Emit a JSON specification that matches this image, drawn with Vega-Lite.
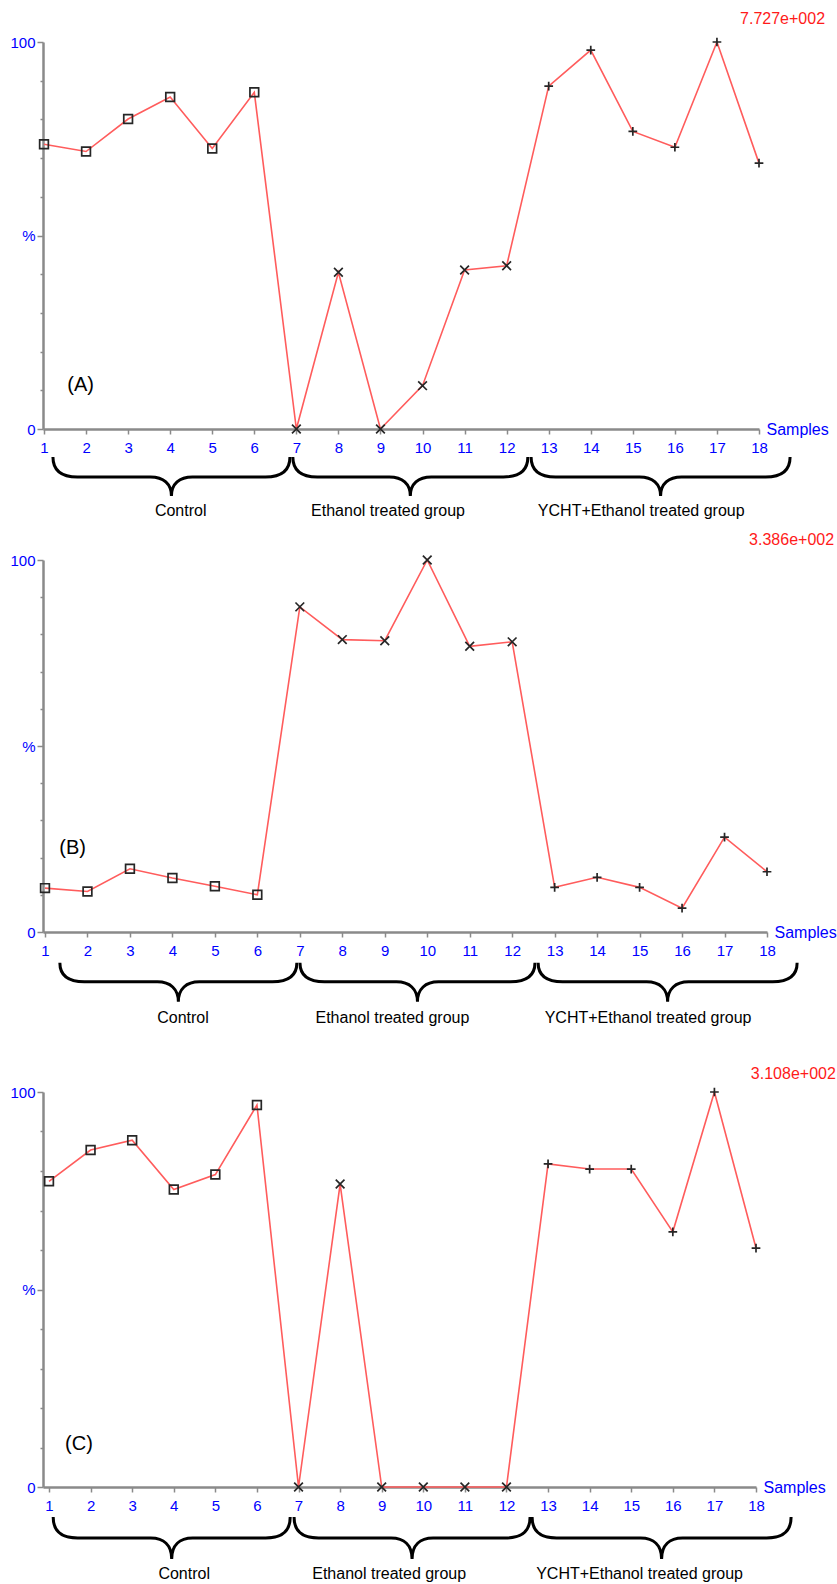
{
  "$schema": "https://vega.github.io/schema/vega-lite/v6.json",
  "padding": {"left": 9, "top": 11, "right": 0, "bottom": 0},
  "background": "white",
  "bounds": "flush",
  "spacing": 131,
  "config": {"view": {"stroke": null}, "font": "Liberation Sans"},
  "datasets": {
    "pts": [
      {"panel": "A", "sample": 1, "value": 73.6, "group": "Control"},
      {"panel": "A", "sample": 2, "value": 71.7, "group": "Control"},
      {"panel": "A", "sample": 3, "value": 80.1, "group": "Control"},
      {"panel": "A", "sample": 4, "value": 85.8, "group": "Control"},
      {"panel": "A", "sample": 5, "value": 72.5, "group": "Control"},
      {"panel": "A", "sample": 6, "value": 87.0, "group": "Control"},
      {"panel": "A", "sample": 7, "value": 0, "group": "Ethanol treated group"},
      {"panel": "A", "sample": 8, "value": 40.5, "group": "Ethanol treated group"},
      {"panel": "A", "sample": 9, "value": 0, "group": "Ethanol treated group"},
      {"panel": "A", "sample": 10, "value": 11.2, "group": "Ethanol treated group"},
      {"panel": "A", "sample": 11, "value": 41.1, "group": "Ethanol treated group"},
      {"panel": "A", "sample": 12, "value": 42.2, "group": "Ethanol treated group"},
      {"panel": "A", "sample": 13, "value": 88.6, "group": "YCHT+Ethanol treated group"},
      {"panel": "A", "sample": 14, "value": 97.9, "group": "YCHT+Ethanol treated group"},
      {"panel": "A", "sample": 15, "value": 76.9, "group": "YCHT+Ethanol treated group"},
      {"panel": "A", "sample": 16, "value": 72.8, "group": "YCHT+Ethanol treated group"},
      {"panel": "A", "sample": 17, "value": 100, "group": "YCHT+Ethanol treated group"},
      {"panel": "A", "sample": 18, "value": 68.7, "group": "YCHT+Ethanol treated group"},
      {"panel": "B", "sample": 1, "value": 11.8, "group": "Control"},
      {"panel": "B", "sample": 2, "value": 10.9, "group": "Control"},
      {"panel": "B", "sample": 3, "value": 17.0, "group": "Control"},
      {"panel": "B", "sample": 4, "value": 14.5, "group": "Control"},
      {"panel": "B", "sample": 5, "value": 12.3, "group": "Control"},
      {"panel": "B", "sample": 6, "value": 10.0, "group": "Control"},
      {"panel": "B", "sample": 7, "value": 87.4, "group": "Ethanol treated group"},
      {"panel": "B", "sample": 8, "value": 78.6, "group": "Ethanol treated group"},
      {"panel": "B", "sample": 9, "value": 78.3, "group": "Ethanol treated group"},
      {"panel": "B", "sample": 10, "value": 100, "group": "Ethanol treated group"},
      {"panel": "B", "sample": 11, "value": 76.8, "group": "Ethanol treated group"},
      {"panel": "B", "sample": 12, "value": 78.0, "group": "Ethanol treated group"},
      {"panel": "B", "sample": 13, "value": 12.0, "group": "YCHT+Ethanol treated group"},
      {"panel": "B", "sample": 14, "value": 14.7, "group": "YCHT+Ethanol treated group"},
      {"panel": "B", "sample": 15, "value": 12.0, "group": "YCHT+Ethanol treated group"},
      {"panel": "B", "sample": 16, "value": 6.4, "group": "YCHT+Ethanol treated group"},
      {"panel": "B", "sample": 17, "value": 25.5, "group": "YCHT+Ethanol treated group"},
      {"panel": "B", "sample": 18, "value": 16.2, "group": "YCHT+Ethanol treated group"},
      {"panel": "C", "sample": 1, "value": 77.4, "group": "Control"},
      {"panel": "C", "sample": 2, "value": 85.3, "group": "Control"},
      {"panel": "C", "sample": 3, "value": 87.8, "group": "Control"},
      {"panel": "C", "sample": 4, "value": 75.3, "group": "Control"},
      {"panel": "C", "sample": 5, "value": 79.1, "group": "Control"},
      {"panel": "C", "sample": 6, "value": 96.7, "group": "Control"},
      {"panel": "C", "sample": 7, "value": 0, "group": "Ethanol treated group"},
      {"panel": "C", "sample": 8, "value": 76.7, "group": "Ethanol treated group"},
      {"panel": "C", "sample": 9, "value": 0, "group": "Ethanol treated group"},
      {"panel": "C", "sample": 10, "value": 0, "group": "Ethanol treated group"},
      {"panel": "C", "sample": 11, "value": 0, "group": "Ethanol treated group"},
      {"panel": "C", "sample": 12, "value": 0, "group": "Ethanol treated group"},
      {"panel": "C", "sample": 13, "value": 81.8, "group": "YCHT+Ethanol treated group"},
      {"panel": "C", "sample": 14, "value": 80.5, "group": "YCHT+Ethanol treated group"},
      {"panel": "C", "sample": 15, "value": 80.5, "group": "YCHT+Ethanol treated group"},
      {"panel": "C", "sample": 16, "value": 64.6, "group": "YCHT+Ethanol treated group"},
      {"panel": "C", "sample": 17, "value": 100, "group": "YCHT+Ethanol treated group"},
      {"panel": "C", "sample": 18, "value": 60.5, "group": "YCHT+Ethanol treated group"}
    ],
    "braces": [
      {"panel": "A", "group": "Control", "mid": 4.03},
      {"panel": "A", "group": "Ethanol treated group", "mid": 9.71},
      {"panel": "A", "group": "YCHT+Ethanol treated group", "mid": 15.66},
      {"panel": "B", "group": "Control", "mid": 4.14},
      {"panel": "B", "group": "Ethanol treated group", "mid": 9.77},
      {"panel": "B", "group": "YCHT+Ethanol treated group", "mid": 15.66},
      {"panel": "C", "group": "Control", "mid": 3.95},
      {"panel": "C", "group": "Ethanol treated group", "mid": 9.73},
      {"panel": "C", "group": "YCHT+Ethanol treated group", "mid": 15.73}
    ],
    "grouplabels": [
      {"label": "Control", "at": 4.25},
      {"label": "Ethanol treated group", "at": 9.18},
      {"label": "YCHT+Ethanol treated group", "at": 15.2}
    ],
    "notes": [
      {"panel": "A", "tag": "(A)", "scale": "7.727e+002"},
      {"panel": "B", "tag": "(B)", "scale": "3.386e+002"},
      {"panel": "C", "tag": "(C)", "scale": "3.108e+002"}
    ]
  },
  "vconcat": [
    {
      "width": 716,
      "height": 387,
      "layer": [
        {
          "data": {"name": "pts"},
          "transform": [{"filter": "datum.panel == 'A'"}],
          "mark": {"type": "line", "color": "#ff5c5c", "strokeWidth": 1.6},
          "encoding": {
            "x": {"field": "sample", "type": "quantitative", "title": "Samples",
              "scale": {"domain": [0.9762, 18], "nice": false, "zero": false},
              "axis": {"values": [1,2,3,4,5,6,7,8,9,10,11,12,13,14,15,16,17,18], "tickCount": 30, "format": "d", "grid": false,
                "tickSize": 5, "tickWidth": 1.5, "tickColor": "#8a8a8a", "domainColor": "#8a8a8a", "domainWidth": 2.5,
                "labelColor": "#0000ff", "labelFontSize": 15, "labelFont": "Liberation Sans", "labelPadding": 6,
                "labelFlush": false, "labelOverlap": false,
                "titleX": 723, "titleY": 0, "titleAlign": "left", "titleBaseline": "middle", "titleAngle": 0,
                "titleColor": "#0000ff", "titleFontSize": 16, "titleFontWeight": "normal", "titleFont": "Liberation Sans"}},
            "y": {"field": "value", "type": "quantitative", "title": null,
              "scale": {"domain": [0, 100], "nice": false},
              "axis": {"values": [0,10,20,30,40,50,60,70,80,90,100], "tickCount": 30, "grid": false,
                "labelExpr": "datum.value == 50 ? '%' : ((datum.value == 0 || datum.value == 100) ? datum.label : '')",
                "tickSize": {"condition": {"test": "datum.value == 0 || datum.value == 50 || datum.value == 100", "value": 6}, "value": 3},
                "tickWidth": 1.5, "tickColor": "#8a8a8a", "domainColor": "#8a8a8a", "domainWidth": 2.5,
                "labelColor": "#0000ff", "labelFontSize": 15, "labelFont": "Liberation Sans", "labelPadding": 2,
                "labelOverlap": false, "labelFlush": false, "labelBound": false}}
          }
        },
        {
          "data": {"name": "pts"},
          "transform": [{"filter": "datum.panel == 'A'"}],
          "mark": {"type": "point", "filled": false, "opacity": 1, "stroke": "#262626", "strokeWidth": 1.7, "size": 76},
          "encoding": {
            "x": {"field": "sample", "type": "quantitative", "title": "Samples"},
            "y": {"field": "value", "type": "quantitative", "title": null},
            "shape": {"field": "group", "type": "nominal", "legend": null,
              "scale": {"domain": ["Control", "Ethanol treated group", "YCHT+Ethanol treated group"],
                "range": ["square", "M-1,-1L1,1M-1,1L1,-1", "M-1,0L1,0M0,-1L0,1"]}}
          }
        },
        {
          "data": {"name": "braces"},
          "transform": [{"filter": "datum.panel == 'A'"}],
          "mark": {"type": "point", "filled": false, "opacity": 1, "stroke": "#000000", "strokeWidth": 3, "size": 4},
          "encoding": {
            "x": {"field": "mid", "type": "quantitative", "title": "Samples"},
            "y": {"datum": -12.4, "type": "quantitative", "title": null},
            "shape": {"field": "group", "type": "nominal", "legend": null,
              "scale": {"domain": ["Control", "Ethanol treated group", "YCHT+Ethanol treated group"],
                "range": [
                  "M-118.5,-20C-118.5,-7,-111,0,-94,0L-21,0C-8,0,0,7,0,19C0,7,8,0,21,0L94,0C111,0,118.5,-7,118.5,-20",
                  "M-117.5,-20C-117.5,-7,-110,0,-93,0L-21,0C-8,0,0,7,0,19C0,7,8,0,21,0L93,0C110,0,117.5,-7,117.5,-20",
                  "M-129.5,-20C-129.5,-7,-122,0,-105,0L-21,0C-8,0,0,7,0,19C0,7,8,0,21,0L105,0C122,0,129.5,-7,129.5,-20"]}}
          }
        },
        {
          "data": {"name": "grouplabels"},
          "mark": {"type": "text", "fontSize": 16, "font": "Liberation Sans", "color": "#000000", "baseline": "middle", "align": "center"},
          "encoding": {
            "x": {"field": "at", "type": "quantitative", "title": "Samples"},
            "y": {"datum": -21.2, "type": "quantitative", "title": null},
            "text": {"field": "label"}
          }
        },
        {
          "data": {"name": "notes"},
          "transform": [{"filter": "datum.panel == 'A'"}],
          "mark": {"type": "text", "fontSize": 20, "font": "Liberation Sans", "color": "#000000", "baseline": "middle", "align": "center"},
          "encoding": {
            "x": {"datum": 1.87, "type": "quantitative", "title": "Samples"},
            "y": {"datum": 11.4, "type": "quantitative", "title": null},
            "text": {"field": "tag"}
          }
        },
        {
          "data": {"name": "notes"},
          "transform": [{"filter": "datum.panel == 'A'"}],
          "mark": {"type": "text", "fontSize": 16, "font": "Liberation Sans", "color": "#ff1a1a", "baseline": "middle", "align": "right"},
          "encoding": {
            "x": {"datum": 19.57, "type": "quantitative", "title": "Samples"},
            "y": {"datum": 105.9, "type": "quantitative", "title": null},
            "text": {"field": "scale"}
          }
        }
      ],
      "resolve": {"scale": {"shape": "independent"}}
    },
    {
      "bounds": "flush",
      "spacing": 160,
      "vconcat": [
        {
          "width": 724,
          "height": 372,
          "layer": [
            {
              "data": {"name": "pts"},
              "transform": [{"filter": "datum.panel == 'B'"}],
              "mark": {"type": "line", "color": "#ff5c5c", "strokeWidth": 1.6},
              "encoding": {
                "x": {"field": "sample", "type": "quantitative", "title": "Samples",
                  "scale": {"domain": [0.9529, 18], "nice": false, "zero": false},
                  "axis": {"values": [1,2,3,4,5,6,7,8,9,10,11,12,13,14,15,16,17,18], "tickCount": 30, "format": "d", "grid": false,
                    "tickSize": 5, "tickWidth": 1.5, "tickColor": "#8a8a8a", "domainColor": "#8a8a8a", "domainWidth": 2.5,
                    "labelColor": "#0000ff", "labelFontSize": 15, "labelFont": "Liberation Sans", "labelPadding": 6,
                    "labelFlush": false, "labelOverlap": false,
                    "titleX": 731, "titleY": 0, "titleAlign": "left", "titleBaseline": "middle", "titleAngle": 0,
                    "titleColor": "#0000ff", "titleFontSize": 16, "titleFontWeight": "normal", "titleFont": "Liberation Sans"}},
                "y": {"field": "value", "type": "quantitative", "title": null,
                  "scale": {"domain": [0, 100], "nice": false},
                  "axis": {"values": [0,10,20,30,40,50,60,70,80,90,100], "tickCount": 30, "grid": false,
                    "labelExpr": "datum.value == 50 ? '%' : ((datum.value == 0 || datum.value == 100) ? datum.label : '')",
                    "tickSize": {"condition": {"test": "datum.value == 0 || datum.value == 50 || datum.value == 100", "value": 6}, "value": 3},
                    "tickWidth": 1.5, "tickColor": "#8a8a8a", "domainColor": "#8a8a8a", "domainWidth": 2.5,
                    "labelColor": "#0000ff", "labelFontSize": 15, "labelFont": "Liberation Sans", "labelPadding": 2,
                    "labelOverlap": false, "labelFlush": false, "labelBound": false}}
              }
            },
            {
              "data": {"name": "pts"},
              "transform": [{"filter": "datum.panel == 'B'"}],
              "mark": {"type": "point", "filled": false, "opacity": 1, "stroke": "#262626", "strokeWidth": 1.7, "size": 76},
              "encoding": {
                "x": {"field": "sample", "type": "quantitative", "title": "Samples"},
                "y": {"field": "value", "type": "quantitative", "title": null},
                "shape": {"field": "group", "type": "nominal", "legend": null,
                  "scale": {"domain": ["Control", "Ethanol treated group", "YCHT+Ethanol treated group"],
                    "range": ["square", "M-1,-1L1,1M-1,1L1,-1", "M-1,0L1,0M0,-1L0,1"]}}
              }
            },
            {
              "data": {"name": "braces"},
              "transform": [{"filter": "datum.panel == 'B'"}],
              "mark": {"type": "point", "filled": false, "opacity": 1, "stroke": "#000000", "strokeWidth": 3, "size": 4},
              "encoding": {
                "x": {"field": "mid", "type": "quantitative", "title": "Samples"},
                "y": {"datum": -13.4, "type": "quantitative", "title": null},
                "shape": {"field": "group", "type": "nominal", "legend": null,
                  "scale": {"domain": ["Control", "Ethanol treated group", "YCHT+Ethanol treated group"],
                    "range": [
                      "M-118.5,-19C-118.5,-7,-111,0,-94,0L-21,0C-8,0,0,7,0,20C0,7,8,0,21,0L94,0C111,0,118.5,-7,118.5,-19",
                      "M-117.5,-19C-117.5,-7,-110,0,-93,0L-21,0C-8,0,0,7,0,20C0,7,8,0,21,0L93,0C110,0,117.5,-7,117.5,-19",
                      "M-129.5,-19C-129.5,-7,-122,0,-105,0L-21,0C-8,0,0,7,0,20C0,7,8,0,21,0L105,0C122,0,129.5,-7,129.5,-19"]}}
              }
            },
            {
              "data": {"name": "grouplabels"},
              "mark": {"type": "text", "fontSize": 16, "font": "Liberation Sans", "color": "#000000", "baseline": "middle", "align": "center"},
              "encoding": {
                "x": {"field": "at", "type": "quantitative", "title": "Samples"},
                "y": {"datum": -23.0, "type": "quantitative", "title": null},
                "text": {"field": "label"}
              }
            },
            {
              "data": {"name": "notes"},
              "transform": [{"filter": "datum.panel == 'B'"}],
              "mark": {"type": "text", "fontSize": 20, "font": "Liberation Sans", "color": "#000000", "baseline": "middle", "align": "center"},
              "encoding": {
                "x": {"datum": 1.65, "type": "quantitative", "title": "Samples"},
                "y": {"datum": 22.5, "type": "quantitative", "title": null},
                "text": {"field": "tag"}
              }
            },
            {
              "data": {"name": "notes"},
              "transform": [{"filter": "datum.panel == 'B'"}],
              "mark": {"type": "text", "fontSize": 16, "font": "Liberation Sans", "color": "#ff1a1a", "baseline": "middle", "align": "right"},
              "encoding": {
                "x": {"datum": 19.58, "type": "quantitative", "title": "Samples"},
                "y": {"datum": 105.4, "type": "quantitative", "title": null},
                "text": {"field": "scale"}
              }
            }
          ],
          "resolve": {"scale": {"shape": "independent"}}
        },
        {
          "width": 713,
          "height": 395,
          "layer": [
            {
              "data": {"name": "pts"},
              "transform": [{"filter": "datum.panel == 'C'"}],
              "mark": {"type": "line", "color": "#ff5c5c", "strokeWidth": 1.6},
              "encoding": {
                "x": {"field": "sample", "type": "quantitative", "title": "Samples",
                  "scale": {"domain": [0.8557, 18], "nice": false, "zero": false},
                  "axis": {"values": [1,2,3,4,5,6,7,8,9,10,11,12,13,14,15,16,17,18], "tickCount": 30, "format": "d", "grid": false,
                    "tickSize": 5, "tickWidth": 1.5, "tickColor": "#8a8a8a", "domainColor": "#8a8a8a", "domainWidth": 2.5,
                    "labelColor": "#0000ff", "labelFontSize": 15, "labelFont": "Liberation Sans", "labelPadding": 6,
                    "labelFlush": false, "labelOverlap": false,
                    "titleX": 720, "titleY": 0, "titleAlign": "left", "titleBaseline": "middle", "titleAngle": 0,
                    "titleColor": "#0000ff", "titleFontSize": 16, "titleFontWeight": "normal", "titleFont": "Liberation Sans"}},
                "y": {"field": "value", "type": "quantitative", "title": null,
                  "scale": {"domain": [0, 100], "nice": false},
                  "axis": {"values": [0,10,20,30,40,50,60,70,80,90,100], "tickCount": 30, "grid": false,
                    "labelExpr": "datum.value == 50 ? '%' : ((datum.value == 0 || datum.value == 100) ? datum.label : '')",
                    "tickSize": {"condition": {"test": "datum.value == 0 || datum.value == 50 || datum.value == 100", "value": 6}, "value": 3},
                    "tickWidth": 1.5, "tickColor": "#8a8a8a", "domainColor": "#8a8a8a", "domainWidth": 2.5,
                    "labelColor": "#0000ff", "labelFontSize": 15, "labelFont": "Liberation Sans", "labelPadding": 2,
                    "labelOverlap": false, "labelFlush": false, "labelBound": false}}
              }
            },
            {
              "data": {"name": "pts"},
              "transform": [{"filter": "datum.panel == 'C'"}],
              "mark": {"type": "point", "filled": false, "opacity": 1, "stroke": "#262626", "strokeWidth": 1.7, "size": 76},
              "encoding": {
                "x": {"field": "sample", "type": "quantitative", "title": "Samples"},
                "y": {"field": "value", "type": "quantitative", "title": null},
                "shape": {"field": "group", "type": "nominal", "legend": null,
                  "scale": {"domain": ["Control", "Ethanol treated group", "YCHT+Ethanol treated group"],
                    "range": ["square", "M-1,-1L1,1M-1,1L1,-1", "M-1,0L1,0M0,-1L0,1"]}}
              }
            },
            {
              "data": {"name": "braces"},
              "transform": [{"filter": "datum.panel == 'C'"}],
              "mark": {"type": "point", "filled": false, "opacity": 1, "stroke": "#000000", "strokeWidth": 3, "size": 4},
              "encoding": {
                "x": {"field": "mid", "type": "quantitative", "title": "Samples"},
                "y": {"datum": -12.9, "type": "quantitative", "title": null},
                "shape": {"field": "group", "type": "nominal", "legend": null,
                  "scale": {"domain": ["Control", "Ethanol treated group", "YCHT+Ethanol treated group"],
                    "range": [
                      "M-118.5,-21C-118.5,-7,-111,0,-94,0L-21,0C-8,0,0,7,0,21C0,7,8,0,21,0L94,0C111,0,118.5,-7,118.5,-21",
                      "M-118,-21C-118,-7,-110.5,0,-93.5,0L-21,0C-8,0,0,7,0,21C0,7,8,0,21,0L93.5,0C110.5,0,118,-7,118,-21",
                      "M-129.5,-21C-129.5,-7,-122,0,-105,0L-21,0C-8,0,0,7,0,21C0,7,8,0,21,0L105,0C122,0,129.5,-7,129.5,-21"]}}
              }
            },
            {
              "data": {"name": "grouplabels"},
              "mark": {"type": "text", "fontSize": 16, "font": "Liberation Sans", "color": "#000000", "baseline": "middle", "align": "center"},
              "encoding": {
                "x": {"field": "at", "type": "quantitative", "title": "Samples"},
                "y": {"datum": -21.9, "type": "quantitative", "title": null},
                "text": {"field": "label"}
              }
            },
            {
              "data": {"name": "notes"},
              "transform": [{"filter": "datum.panel == 'C'"}],
              "mark": {"type": "text", "fontSize": 20, "font": "Liberation Sans", "color": "#000000", "baseline": "middle", "align": "center"},
              "encoding": {
                "x": {"datum": 1.72, "type": "quantitative", "title": "Samples"},
                "y": {"datum": 10.8, "type": "quantitative", "title": null},
                "text": {"field": "tag"}
              }
            },
            {
              "data": {"name": "notes"},
              "transform": [{"filter": "datum.panel == 'C'"}],
              "mark": {"type": "text", "fontSize": 16, "font": "Liberation Sans", "color": "#ff1a1a", "baseline": "middle", "align": "right"},
              "encoding": {
                "x": {"datum": 19.92, "type": "quantitative", "title": "Samples"},
                "y": {"datum": 104.6, "type": "quantitative", "title": null},
                "text": {"field": "scale"}
              }
            }
          ],
          "resolve": {"scale": {"shape": "independent"}}
        }
      ]
    }
  ]
}
